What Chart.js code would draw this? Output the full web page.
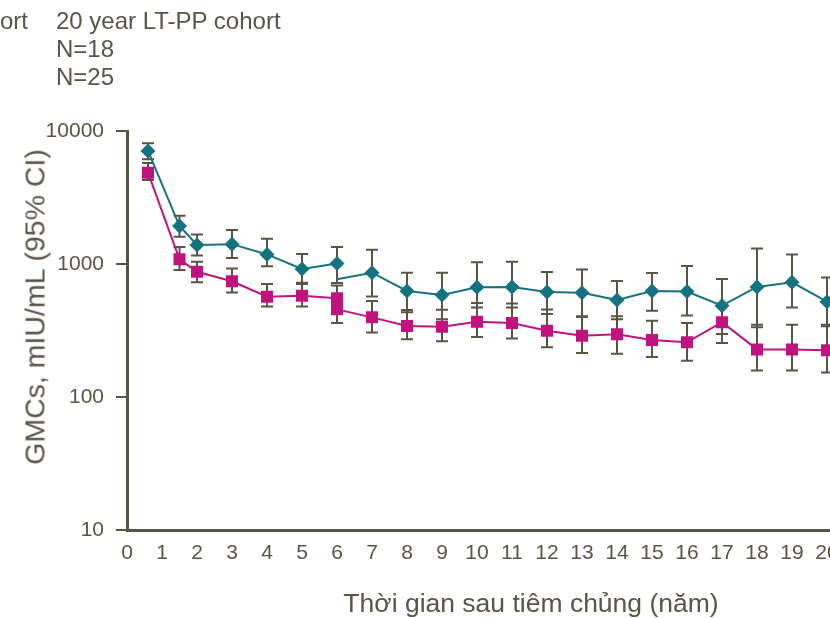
<!DOCTYPE html>
<html>
<head>
<meta charset="utf-8">
<script src="https://cdn.jsdelivr.net/npm/chart.js@4"></script>
<style>
html, body { margin: 0; padding: 0; background: #fff; }
#wrap { position: relative; width: 830px; height: 618px; overflow: hidden; }
canvas { position: absolute; left: 0; top: 0; }
.txt { position: absolute; font-family: "Liberation Sans", Arial, sans-serif; color: #5a5448; white-space: nowrap; }
</style>
</head>
<body>
<div id="wrap">
  <canvas id="gmcChart" width="900" height="618"></canvas>
  <div class="txt" style="right:802px; top:7px; font-size:24px; line-height:28px;">cohort</div>
  <div class="txt" style="left:56px; top:7px; font-size:24px; line-height:28px;">20 year LT-PP cohort<br>N=18<br>N=25</div>
  <div class="txt" style="left:35px; top:307px; font-size:28.5px; transform:translate(-50%,-50%) rotate(-90deg);">GMCs, mIU/mL (95% CI)</div>
  <div class="txt" style="left:531px; top:603px; font-size:26.5px; transform:translate(-50%,-50%);">Thời gian sau tiêm chủng (năm)</div>
</div>
<script>
// years after vaccination
const yearsEarly = [0.6, 1.5, 2, 3, 4, 5, 6];
const yearsLong = [6, 7, 8, 9, 10, 11, 12, 13, 14, 15, 16, 17, 18, 19, 20];

// teal series (diamonds)
const tealEarly = [7080, 1930, 1390, 1410, 1180, 917, 1010];
const tealEarlyLow = [6120, 1600, 1160, 1110, 960, 724, 720];
const tealEarlyHigh = [8080, 2310, 1670, 1800, 1550, 1190, 1345];
const tealLong = [767, 860, 627, 585, 668, 672, 616, 608, 536, 627, 620, 486, 672, 728, 521];
const tealLongLow = [null, 570, 433, 384, 470, 470, 420, 405, 385, 445, 410, 297, 335, 470, 340];
const tealLongHigh = [null, 1280, 860, 860, 1030, 1040, 870, 910, 746, 855, 965, 770, 1310, 1180, 790];

// magenta series (squares)
const pinkEarly = [4860, 1085, 875, 741, 568, 578, 552];
const pinkEarlyLow = [4285, 900, 730, 610, 480, 480, 440];
const pinkEarlyHigh = [5740, 1340, 1040, 925, 707, 707, 690];
const pinkLong = [456, 397, 342, 338, 368, 360, 315, 289, 296, 268, 258, 365, 228, 228, 225];
const pinkLongLow = [360, 306, 272, 263, 283, 275, 237, 214, 211, 200, 187, 255, 158, 158, 153];
const pinkLongHigh = [575, 527, 450, 453, 510, 505, 455, 400, 405, 375, 360, 490, 350, 350, 350];

const xTicks = [0, 1, 2, 3, 4, 5, 6, 7, 8, 9, 10, 11, 12, 13, 14, 15, 16, 17, 18, 19, 20];
const yTicks = [10, 100, 1000, 10000];

const TEAL = '#16727f';
const PINK = '#c0137e';
const INK = '#5a5346';
const FONT = '"Liberation Sans", Arial, sans-serif';

function points(xs, ys) {
  return xs.map((x, i) => ({ x: x, y: ys[i] }));
}

// draws the 95% CI whiskers for every dataset that has errLow/errHigh
const errorBars = {
  id: 'errorBars',
  beforeDatasetsDraw(chart) {
    const ctx = chart.ctx;
    const xs = chart.scales.x, ys = chart.scales.y;
    ctx.save();
    ctx.strokeStyle = INK;
    ctx.lineWidth = 2;
    chart.data.datasets.forEach(ds => {
      ds.data.forEach((p, i) => {
        if (ds.errLow[i] == null) return;
        const px = xs.getPixelForValue(p.x);
        const lo = ys.getPixelForValue(ds.errLow[i]);
        const hi = ys.getPixelForValue(ds.errHigh[i]);
        ctx.beginPath();
        ctx.moveTo(px, lo); ctx.lineTo(px, hi);
        ctx.moveTo(px - 6, lo); ctx.lineTo(px + 6, lo);
        ctx.moveTo(px - 6, hi); ctx.lineTo(px + 6, hi);
        ctx.stroke();
      });
    });
    ctx.restore();
  }
};

function series(xs, ys, lo, hi, color, shape, radius, firstRadius) {
  return {
    data: points(xs, ys),
    errLow: lo,
    errHigh: hi,
    borderColor: color,
    backgroundColor: color,
    borderWidth: 2,
    pointStyle: shape,
    pointRadius: ys.map((v, i) => (i === 0 && firstRadius != null) ? firstRadius : radius),
    pointBorderWidth: 0,
    tension: 0
  };
}

new Chart(document.getElementById('gmcChart'), {
  type: 'line',
  data: {
    datasets: [
      series(yearsEarly, tealEarly, tealEarlyLow, tealEarlyHigh, TEAL, 'rectRot', 7.5),
      series(yearsLong, tealLong, tealLongLow, tealLongHigh, TEAL, 'rectRot', 7.5, 0),
      series(yearsEarly, pinkEarly, pinkEarlyLow, pinkEarlyHigh, PINK, 'rect', 8.5),
      series(yearsLong, pinkLong, pinkLongLow, pinkLongHigh, PINK, 'rect', 8.5)
    ]
  },
  options: {
    responsive: false,
    animation: false,
    devicePixelRatio: 1,
    layout: { padding: { top: 131, right: 55.5, bottom: 0, left: 0 } },
    plugins: { legend: { display: false }, tooltip: { enabled: false } },
    scales: {
      x: {
        type: 'linear',
        min: 0,
        max: 20.5,
        grid: { display: false, drawTicks: false },
        border: { display: true, color: INK, width: 3 },
        ticks: {
          autoSkip: false,
          maxRotation: 0,
          padding: 11,
          color: INK,
          font: { family: FONT, size: 21 }
        },
        afterBuildTicks: axis => { axis.ticks = xTicks.map(v => ({ value: v })); },
        afterFit: axis => { axis.height = 88; }
      },
      y: {
        type: 'logarithmic',
        min: 10,
        max: 10000,
        grid: { drawOnChartArea: false, drawTicks: true, tickLength: 11, color: INK, lineWidth: 2 },
        border: { display: true, color: INK, width: 3 },
        ticks: {
          padding: 12,
          color: INK,
          font: { family: FONT, size: 21 },
          callback: v => String(v)
        },
        afterBuildTicks: axis => { axis.ticks = yTicks.map(v => ({ value: v })); },
        afterFit: axis => { axis.width = 127; }
      }
    }
  },
  plugins: [errorBars]
});
</script>
</body>
</html>
